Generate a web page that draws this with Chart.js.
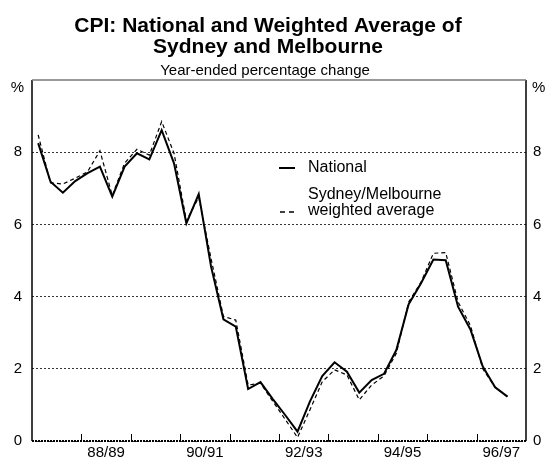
<!DOCTYPE html>
<html>
<head>
<meta charset="utf-8">
<script src="https://cdn.jsdelivr.net/npm/chart.js@4"></script>
<style>
html,body{margin:0;padding:0;background:#fff;}
#wrap{width:548px;height:461px;}
</style>
</head>
<body>
<div id="wrap"><canvas id="c" width="548" height="461"></canvas></div>
<script>
// Quarterly observations, Sep 1987 to Mar 1997 (x = quarters since Jul 1987)
const quarters = Array.from({length: 39}, (_, i) => i + 0.5);
const national = [8.25, 7.18, 6.88, 7.2, 7.42, 7.6, 6.77, 7.6, 7.97, 7.8, 8.61, 7.69, 6.03, 6.84, 4.83, 3.37, 3.17, 1.44, 1.63, 1.16, 0.72, 0.26, 1.09, 1.8, 2.18, 1.92, 1.34, 1.69, 1.86, 2.52, 3.79, 4.37, 5.03, 5.01, 3.72, 3.09, 2.06, 1.49, 1.23];
const sydMel = [8.48, 7.15, 7.12, 7.28, 7.46, 8.04, 6.8, 7.7, 8.08, 7.92, 8.85, 7.97, 6.1, 6.75, 5.05, 3.45, 3.35, 1.55, 1.6, 1.1, 0.6, 0.1, 0.86, 1.64, 1.97, 1.83, 1.14, 1.55, 1.8, 2.43, 3.85, 4.4, 5.2, 5.22, 3.85, 3.2, 2.0, 1.49, 1.23];
const xLabels = ['88/89', '90/91', '92/93', '94/95', '96/97'];
const xLabelPos = [6, 14, 22, 30, 38];
const fyBoundaries = [4, 8, 12, 16, 20, 24, 28, 32, 36];
const yTicks = [0, 2, 4, 6, 8];
const titleLines = ['CPI: National and Weighted Average of', 'Sydney and Melbourne'];
const subtitle = 'Year-ended percentage change';
const legendItems = [['National'], ['Sydney/Melbourne', 'weighted average']];

const FONT = '"Liberation Sans", Arial, Helvetica, sans-serif';

const decor = {
  id: 'decor',
  beforeDraw(chart) {
    const ctx = chart.ctx;
    ctx.save();
    ctx.fillStyle = '#fff';
    ctx.fillRect(0, 0, chart.width, chart.height);
    ctx.restore();
  },
  afterDraw(chart) {
    const ctx = chart.ctx;
    const a = chart.chartArea;
    const xs = chart.scales.x;
    ctx.save();
    // titles
    ctx.fillStyle = '#000';
    ctx.textAlign = 'center';
    ctx.textBaseline = 'alphabetic';
    ctx.font = 'bold 21px ' + FONT;
    ctx.fillText(titleLines[0], 268, 32);
    ctx.fillText(titleLines[1], 268, 53);
    ctx.font = '15px ' + FONT;
    ctx.fillText(subtitle, 265, 75);
    // percent signs
    ctx.font = '15px ' + FONT;
    ctx.textBaseline = 'middle';
    ctx.textAlign = 'right';
    ctx.fillText('%', 24, 88);
    ctx.textAlign = 'left';
    ctx.fillText('%', 532, 88);
    // frame
    ctx.lineWidth = 1.5;
    ctx.strokeStyle = '#000';
    ctx.beginPath();
    ctx.moveTo(a.left, a.top); ctx.lineTo(a.left, a.bottom);
    ctx.moveTo(a.right, a.top); ctx.lineTo(a.right, a.bottom);
    ctx.stroke();
    ctx.strokeStyle = '#777';
    ctx.lineWidth = 1.5;
    ctx.beginPath();
    ctx.moveTo(a.left, a.top); ctx.lineTo(a.right, a.top);
    ctx.stroke();
    ctx.strokeStyle = '#000';
    ctx.lineWidth = 2;
    ctx.setLineDash([2, 1]);
    ctx.beginPath();
    ctx.moveTo(a.left, a.bottom); ctx.lineTo(a.right, a.bottom);
    ctx.stroke();
    ctx.setLineDash([]);
    // FY tick marks
    ctx.lineWidth = 1;
    ctx.strokeStyle = '#000';
    ctx.beginPath();
    fyBoundaries.forEach(q => {
      const px = Math.round(xs.getPixelForValue(q)) + 0.5;
      ctx.moveTo(px, a.bottom);
      ctx.lineTo(px, a.bottom - 7);
    });
    ctx.stroke();
    // legend
    ctx.font = '16px ' + FONT;
    ctx.textAlign = 'left';
    ctx.textBaseline = 'middle';
    ctx.lineWidth = 2;
    ctx.beginPath();
    ctx.moveTo(279, 168); ctx.lineTo(295, 168);
    ctx.stroke();
    ctx.fillText(legendItems[0][0], 308, 168);
    ctx.lineWidth = 1.5;
    ctx.setLineDash([5, 4]);
    ctx.beginPath();
    ctx.moveTo(280, 212); ctx.lineTo(294, 212);
    ctx.stroke();
    ctx.setLineDash([]);
    ctx.fillText(legendItems[1][0], 308, 195);
    ctx.fillText(legendItems[1][1], 308, 211);
    ctx.restore();
  }
};

const yCommon = (pos, w, pad) => ({
  type: 'linear',
  position: pos,
  min: 0, max: 10,
  afterBuildTicks(s) { s.ticks = yTicks.map(v => ({value: v})); },
  afterFit(s) { s.width = w; },
  ticks: {
    color: '#000',
    padding: pad,
    font: {family: FONT, size: 15}
  },
  border: {display: false, dash: [2, 2]},
  grid: {display: pos === 'left', color: '#333', lineWidth: 1, drawTicks: false}
});

new Chart(document.getElementById('c'), {
  type: 'line',
  data: {
    datasets: [
      {
        label: 'Sydney/Melbourne weighted average',
        data: quarters.map((x, i) => ({x, y: sydMel[i]})),
        borderColor: '#000',
        borderWidth: 1.2,
        borderDash: [4, 3],
        pointRadius: 0,
        tension: 0,
        fill: false
      },
      {
        label: 'National',
        data: quarters.map((x, i) => ({x, y: national[i]})),
        borderColor: '#000',
        borderWidth: 2,
        pointRadius: 0,
        tension: 0,
        fill: false
      }
    ]
  },
  options: {
    responsive: false,
    animation: false,
    devicePixelRatio: 1,
    layout: {padding: {top: 80, left: 0, right: 0, bottom: 0}},
    plugins: {legend: {display: false}, tooltip: {enabled: false}, title: {display: false}},
    scales: {
      x: {
        type: 'linear', min: 0, max: 40, display: false
      },
      x2: {
        type: 'linear', min: 0, max: 40, position: 'bottom',
        afterBuildTicks(s) { s.ticks = xLabelPos.map(v => ({value: v})); },
        afterFit(s) { s.height = 20; },
        ticks: {
          color: '#000',
          padding: 3,
          maxRotation: 0,
          autoSkip: false,
          font: {family: FONT, size: 15},
          callback: (v) => { const k = xLabelPos.indexOf(v); return k >= 0 ? xLabels[k] : ''; }
        },
        grid: {display: false, drawTicks: false},
        border: {display: false}
      },
      y: yCommon('left', 32, 10),
      y2: yCommon('right', 22, 7)
    }
  },
  plugins: [decor]
});
</script>
</body>
</html>
